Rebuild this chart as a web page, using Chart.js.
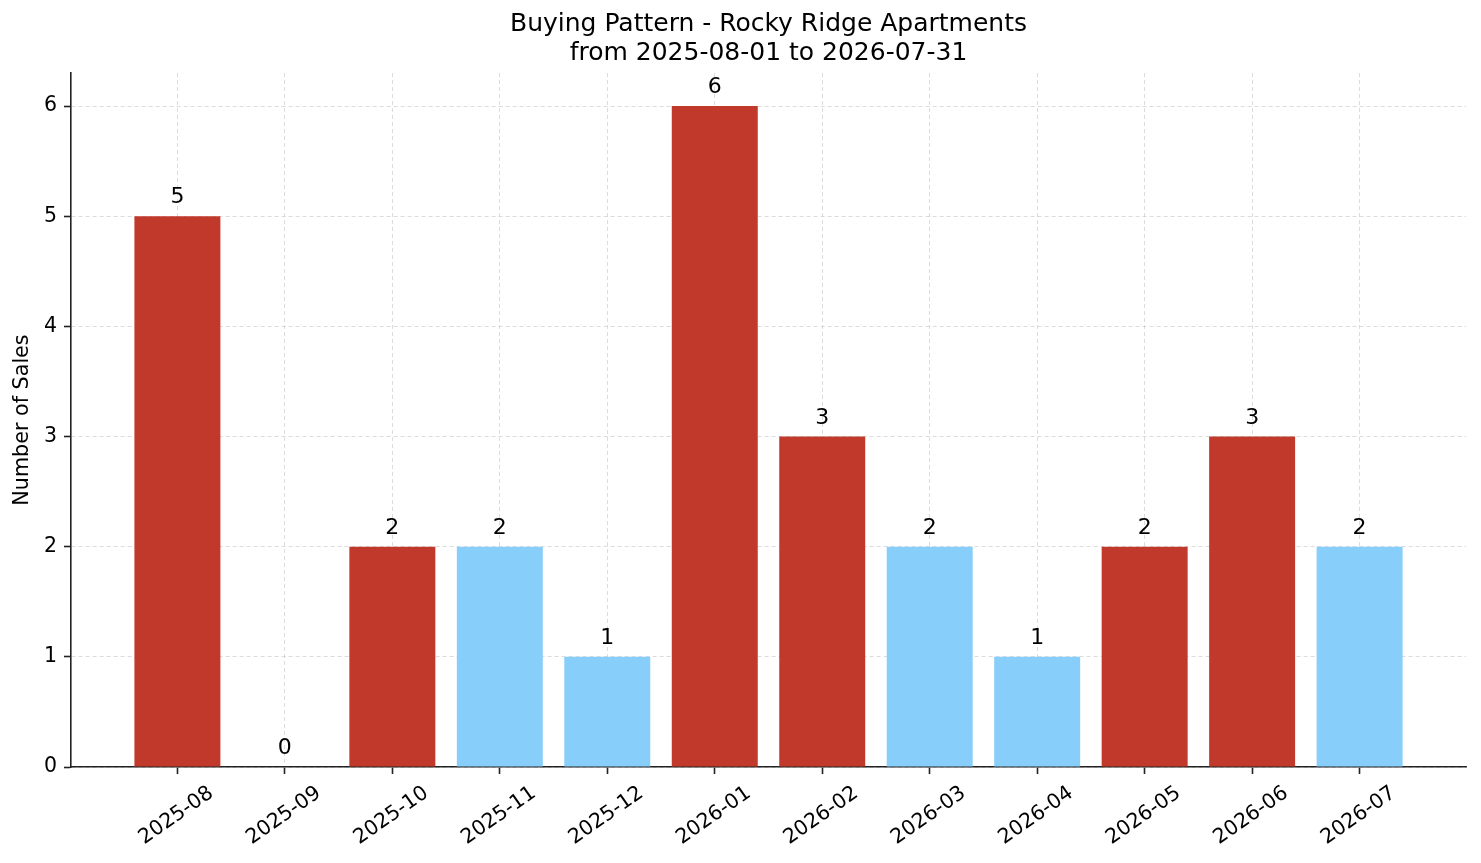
<!DOCTYPE html>
<html>
<head>
<meta charset="utf-8">
<script src="https://cdn.jsdelivr.net/npm/chart.js@4.4.1/dist/chart.umd.min.js"></script>
<style>
html,body{margin:0;padding:0;background:#fff;}
#wrap{width:1481px;height:863px;position:relative;}
</style>
</head>
<body>
<div id="wrap"><canvas id="c"></canvas></div>
<script>
const categories = ['2025-08','2025-09','2025-10','2025-11','2025-12','2026-01','2026-02','2026-03','2026-04','2026-05','2026-06','2026-07'];
const sales = [5,0,2,2,1,6,3,2,1,2,3,2];
const barColors = ['#c0392b','#c0392b','#c0392b','#87cefa','#87cefa','#c0392b','#c0392b','#87cefa','#87cefa','#c0392b','#c0392b','#87cefa'];
const yTicks = [0,1,2,3,4,5,6];
const titleLines = ['Buying Pattern - Rocky Ridge Apartments','from 2025-08-01 to 2026-07-31'];
const yTitle = 'Number of Sales';

const FONT = '"DejaVu Sans", "Liberation Sans", sans-serif';
Chart.defaults.font.family = FONT;
Chart.defaults.color = '#000';

const valueLabels = {
  id: 'valueLabels',
  afterDraw(chart) {
    const ctx = chart.ctx;
    const meta = chart.getDatasetMeta(0);
    ctx.save();
    ctx.font = '22px ' + FONT;
    ctx.fillStyle = '#000';
    ctx.textAlign = 'center';
    ctx.textBaseline = 'alphabetic';
    meta.data.forEach((el, i) => {
      ctx.fillText(String(sales[i]), el.x, el.y - 13);
    });
    ctx.restore();
  }
};

const gridColor = 'rgba(190,190,190,0.6)';
const axisColor = '#222';

new Chart(document.getElementById('c'), {
  type: 'bar',
  data: {
    datasets: [{
      data: sales.map((v, i) => ({x: i, y: v})),
      backgroundColor: barColors,
      borderWidth: 0,
      barPercentage: 0.8,
      categoryPercentage: 1.0
    }]
  },
  options: {
    responsive: true,
    maintainAspectRatio: false,
    animation: false,
    devicePixelRatio: 1,
    layout: { padding: { left: 0, right: 15, top: 0, bottom: 0 } },
    plugins: {
      legend: { display: false },
      tooltip: { enabled: false },
      title: {
        display: true,
        fullSize: false,
        text: titleLines,
        color: '#000',
        font: { family: FONT, size: 25, weight: 'normal', lineHeight: 1.136 },
        padding: { top: 10.5, bottom: 5.7 }
      }
    },
    scales: {
      x: {
        type: 'linear',
        min: -0.99,
        max: 11.99,
        bounds: 'data',
        offset: false,
        z: 1,
        afterBuildTicks: (axis) => { axis.ticks = categories.map((_, i) => ({value: i})); },
        afterFit: (axis) => { axis.height = 96; },
        grid: {
          display: true,
          offset: false,
          color: gridColor,
          lineWidth: 0.9,
          drawTicks: true,
          tickLength: 7,
          tickColor: axisColor,
          tickWidth: 1.6
        },
        border: { display: true, color: axisColor, width: 1.6, dash: [4, 3] },
        ticks: {
          autoSkip: false,
          minRotation: 35,
          maxRotation: 35,
          labelOffset: 34,
          padding: 7,
          color: '#000',
          font: { family: FONT, size: 20.5 },
          callback: (value) => categories[value]
        }
      },
      y: {
        type: 'linear',
        min: 0,
        max: 6.3,
        bounds: 'data',
        offset: false,
        z: 1,
        afterBuildTicks: (axis) => { axis.ticks = yTicks.map(v => ({value: v})); },
        afterFit: (axis) => { axis.width = 71; },
        grid: {
          display: true,
          offset: false,
          color: gridColor,
          lineWidth: 0.9,
          drawTicks: true,
          tickLength: 7,
          tickColor: axisColor,
          tickWidth: 1.6
        },
        border: { display: true, color: axisColor, width: 1.6, dash: [4, 3] },
        ticks: {
          padding: 7,
          color: '#000',
          font: { family: FONT, size: 20.5 },
          callback: (value) => String(value)
        },
        title: {
          display: true,
          text: yTitle,
          color: '#000',
          font: { family: FONT, size: 20.7 },
          padding: { top: 10.6, bottom: 0 }
        }
      }
    }
  },
  plugins: [valueLabels]
});
</script>
</body>
</html>
